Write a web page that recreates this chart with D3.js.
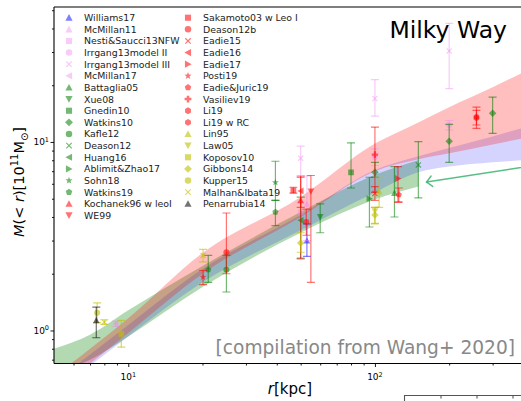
<!DOCTYPE html>
<html>
<head>
<meta charset="utf-8">
<script src="https://cdn.jsdelivr.net/npm/d3@7"></script>
<style>
  body { margin: 0; background: #fff; }
  svg { display: block; }
  text { font-family: "DejaVu Sans", sans-serif; }
</style>
</head>
<body>
<svg id="chart" width="521" height="401"></svg>
<script>
// Enclosed Milky Way mass, M(<r) in units of 1e11 Msun.
// Each row: [r (kpc), M, lower bound, upper bound]
const williams17   = [[53, 3.0, 2.47, 3.68]];
const mcmillan11   = [[53, 4.7, 3.0, 6.6]];
const nesti13      = [[50, 4.25, 3.8, 4.8]];
const irrgang13ii  = [[100, 8.3, 7.5, 9.2], [200, 12.3, 11.6, 13.0]];
const irrgang13iii = [[50, 8.2, 6.5, 9.5], [100, 17.0, 13.7, 21.4], [200, 30.4, 19.2, 42.6]];
const mcmillan17   = [[8.9, 1.085, 1.05, 1.12]];
const battaglia05  = [[120, 5.36, 4.0, 7.4]];
const xue08        = [[60, 4.0, 3.3, 4.7]];
const gnedin10     = [[80, 6.9, 5.7, 9.9]];
const watkins10    = [[100, 6.9, 6.5, 7.8], [200, 10.1, 7.8, 12.4], [300, 14.2, 11.1, 17.3]];
const kafle12      = [[25, 2.1, 1.6, 2.5]];
const deason12     = [[150, 7.55, 5.05, 10.05]];
const huang16      = [[50, 3.84, 2.42, 5.1]];
const ablimit17    = [[95, 5.0, 3.54, 6.5]];
const sohn18       = [[39.5, 6.1, 4.9, 7.9]];
const watkins19    = [[21.1, 2.1, 1.8, 2.5], [39.5, 4.25, 3.6, 4.9]];
const kochanek96   = [[50, 4.9, 2.4, 6.5]];
const we99         = [[55, 5.47, 1.8, 6.64]];
const sakamoto03   = [[46.7, 5.54, 5.35, 5.75]];
const deason12b    = [[25, 2.6, 2.0, 4.2], [52.7, 3.76, 3.2, 4.4]];
const eadie15      = [[100, 5.33, 4.9, 5.8]];
const eadie16      = [[50, 5.5, 4.5, 6.6]];
const eadie17      = [[124, 6.4, 4.8, 7.4]];
const posti19      = [[20.1, 1.92, 1.75, 2.08]];
const eadieJuric19 = [[125, 5.25, 4.8, 5.7]];
const vasiliev19   = [[100, 8.57, 5.4, 12.0]];
const li19         = [[258, 13.6, 11.8, 15.3]];
const li19rc       = [[258, 13.4, 12.3, 14.7]];
const lin95        = [[104, 5.47, 4.5, 6.5]];
const law05        = [[100, 4.3, 3.68, 4.5]];
const koposov10    = [[9.37, 0.96, 0.815, 1.13]];
const gibbons14    = [[50, 2.91, 2.6, 3.3], [100, 4.1, 3.7, 4.5]];
const kupper15     = [[7.48, 1.24, 1.1, 1.40]];
const malhan19     = [[8.0, 1.107, 1.076, 1.14], [20.1, 2.5, 2.31, 2.69]];
const penarrubia14 = [[7.42, 1.13, 0.915, 1.33]];

// Model envelopes: [r (kpc), lower M, upper M]
const greenBand = [[5, 0.60, 0.80], [7, 0.70, 0.95], [10, 0.93, 1.28], [20, 1.70, 2.2],
                   [50, 3.3, 4.25], [100, 4.95, 6.7], [150, 5.8, 8.0]];
const blueBand  = [[5, 0.465, 0.53], [7, 0.65, 0.745], [10, 0.93, 1.07], [20, 1.8, 2.12],
                   [50, 3.4, 4.1], [100, 5.4, 7.1], [150, 6.9, 8.4], [200, 7.4, 9.3],
                   [300, 7.8, 10.7], [391, 8.0, 11.8]];
const redBand   = [[5, 0.48, 0.57], [7, 0.668, 0.80], [10, 0.97, 1.16], [20, 2.0, 2.58],
                   [50, 4.0, 5.1], [100, 7.0, 9.8], [150, 8.1, 12.7], [200, 8.7, 15.3],
                   [300, 9.7, 19.5], [391, 10.4, 23.1]];

// Axis ticks
const xMajor = [10, 100];
const xMinor = [6, 7, 8, 9, 20, 30, 40, 50, 60, 70, 80, 90, 200, 300];
const yMajor = [1, 10];
const yMinor = [0.7, 0.8, 0.9, 2, 3, 4, 5, 6, 7, 8, 9, 20, 30, 40, 50];
const xMajorExp = ["1", "2"];
const yMajorExp = ["0", "1"];

// Legend columns: [label, data, colour key, marker]
const legendLeft = [
  ["Williams17", williams17, "blue", "^"],
  ["McMillan11", mcmillan11, "violet", "^"],
  ["Nesti&Saucci13NFW", nesti13, "violet", "s"],
  ["Irrgang13model II", irrgang13ii, "violet", "o"],
  ["Irrgang13model III", irrgang13iii, "violet", "x"],
  ["McMillan17", mcmillan17, "violet", "<"],
  ["Battaglia05", battaglia05, "green", "^"],
  ["Xue08", xue08, "green", "v"],
  ["Gnedin10", gnedin10, "green", "s"],
  ["Watkins10", watkins10, "green", "D"],
  ["Kafle12", kafle12, "green", "o"],
  ["Deason12", deason12, "green", "x"],
  ["Huang16", huang16, "green", "<"],
  ["Ablimit&Zhao17", ablimit17, "green", ">"],
  ["Sohn18", sohn18, "green", "*"],
  ["Watkins19", watkins19, "green", "p"],
  ["Kochanek96 w leoI", kochanek96, "red", "^"],
  ["WE99", we99, "red", "v"]
];
const legendRight = [
  ["Sakamoto03 w Leo I", sakamoto03, "red", "s"],
  ["Deason12b", deason12b, "red", "o"],
  ["Eadie15", eadie15, "red", "x"],
  ["Eadie16", eadie16, "red", "<"],
  ["Eadie17", eadie17, "red", ">"],
  ["Posti19", posti19, "red", "*"],
  ["Eadie&Juric19", eadieJuric19, "red", "p"],
  ["Vasiliev19", vasiliev19, "red", "P"],
  ["Li19", li19, "red", "h"],
  ["Li19 w RC", li19rc, "red", "h"],
  ["Lin95", lin95, "yellow", "^"],
  ["Law05", law05, "yellow", "v"],
  ["Koposov10", koposov10, "yellow", "s"],
  ["Gibbons14", gibbons14, "yellow", "D"],
  ["Kupper15", kupper15, "yellow", "o"],
  ["Malhan&Ibata19", malhan19, "yellow", "x"],
  ["Penarrubia14", penarrubia14, "black", "^"]
];

const colours = {
  blue:   { c: "#0000ff", a: 0.5 },
  violet: { c: "#ee82ee", a: 0.42 },
  green:  { c: "#008000", a: 0.55 },
  red:    { c: "#ff0000", a: 0.55 },
  yellow: { c: "#bfbf00", a: 0.6 },
  black:  { c: "#000000", a: 0.55 }
};

const svg = d3.select("#chart");
const plot = { left: 54, right: 521, top: 7, bottom: 363.5 };

const x = d3.scaleLog().domain([5, 391]).range([plot.left, plot.right]);
const y = d3.scaleLog().domain([0.668, 52]).range([plot.bottom, plot.top]);

svg.append("defs").append("clipPath").attr("id", "plotClip")
  .append("rect")
  .attr("x", plot.left).attr("y", plot.top)
  .attr("width", plot.right - plot.left).attr("height", plot.bottom - plot.top);

const inner = svg.append("g").attr("clip-path", "url(#plotClip)");

// Envelopes
const area = d3.area()
  .x(d => x(d[0]))
  .y0(d => y(d[1]))
  .y1(d => y(d[2]))
  .curve(d3.curveMonotoneX);

inner.append("path").datum(greenBand).attr("d", area)
  .attr("fill", "#008000").attr("fill-opacity", 0.3);
inner.append("path").datum(blueBand).attr("d", area)
  .attr("fill", "#0000ff").attr("fill-opacity", 0.17);
inner.append("path").datum(redBand).attr("d", area)
  .attr("fill", "#ff0000").attr("fill-opacity", 0.25);

// Marker shapes
function markerPath(type, s) {
  const poly = pts => "M" + pts.map(p => p[0].toFixed(2) + "," + p[1].toFixed(2)).join("L") + "Z";
  const reg = (n, rad, rot) => d3.range(n).map(i => {
    const a = rot + i * 2 * Math.PI / n;
    return [rad * Math.sin(a), -rad * Math.cos(a)];
  });
  switch (type) {
    case "^": return poly([[0, -s], [s, s * 0.85], [-s, s * 0.85]]);
    case "v": return poly([[0, s], [s, -s * 0.85], [-s, -s * 0.85]]);
    case "<": return poly([[-s, 0], [s * 0.85, -s], [s * 0.85, s]]);
    case ">": return poly([[s, 0], [-s * 0.85, -s], [-s * 0.85, s]]);
    case "s": { const h = s * 0.85; return poly([[-h, -h], [h, -h], [h, h], [-h, h]]); }
    case "D": return poly([[0, -s * 1.1], [s * 1.1, 0], [0, s * 1.1], [-s * 1.1, 0]]);
    case "o": {
      const r = s * 0.9;
      return `M${r},0A${r},${r} 0 1,1 ${-r},0A${r},${r} 0 1,1 ${r},0Z`;
    }
    case "p": return poly(reg(5, s * 0.95, 0));
    case "h": return poly(reg(6, s * 0.95, 0));
    case "*": {
      const pts = [];
      for (let i = 0; i < 10; i++) {
        const rad = i % 2 === 0 ? s * 1.05 : s * 0.45;
        const a = i * Math.PI / 5;
        pts.push([rad * Math.sin(a), -rad * Math.cos(a)]);
      }
      return poly(pts);
    }
    case "P": {
      const a = s * 0.95, b = s * 0.35;
      return poly([[-b, -a], [b, -a], [b, -b], [a, -b], [a, b], [b, b], [b, a], [-b, a], [-b, b], [-a, b], [-a, -b], [-b, -b]]);
    }
    case "x": { const h = s * 0.75; return `M${-h},${-h}L${h},${h}M${-h},${h}L${h},${-h}`; }
  }
}

function drawMarker(g, type, colourKey, cx, cy, s) {
  const col = colours[colourKey];
  const p = g.append("path")
    .attr("d", markerPath(type, s))
    .attr("transform", `translate(${cx},${cy})`);
  if (type === "x") {
    p.attr("fill", "none").attr("stroke", col.c).attr("stroke-opacity", col.a).attr("stroke-width", 1.2);
  } else {
    p.attr("fill", col.c).attr("fill-opacity", col.a);
  }
}

// Measurements with error bars
const allSeries = legendLeft.concat(legendRight);
const pts = inner.append("g");
allSeries.forEach(([label, data, ck, mk]) => {
  const col = colours[ck];
  const g = pts.append("g");
  data.forEach(([r, m, lo, hi]) => {
    const cx = x(r);
    const eb = g.append("g").attr("stroke", col.c).attr("stroke-opacity", col.a).attr("stroke-width", 1.2);
    eb.append("line").attr("x1", cx).attr("x2", cx).attr("y1", y(lo)).attr("y2", y(hi));
    eb.append("line").attr("x1", cx - 4).attr("x2", cx + 4).attr("y1", y(lo)).attr("y2", y(lo));
    eb.append("line").attr("x1", cx - 4).attr("x2", cx + 4).attr("y1", y(hi)).attr("y2", y(hi));
    drawMarker(g, mk, ck, cx, y(m), 3.4);
  });
});

// Arrow pointing at the envelopes
const arrowFrom = [520, 7.75], arrowTo = [162, 6.13];
{
  const x0 = x(arrowFrom[0]), y0 = y(arrowFrom[1]);
  const x1 = x(arrowTo[0]), y1 = y(arrowTo[1]);
  const ang = Math.atan2(y0 - y1, x0 - x1);
  const L = 7.5;
  const a1 = ang + Math.PI / 4, a2 = ang - Math.PI / 4;
  const ag = inner.append("g").attr("stroke", "#3cb371").attr("stroke-opacity", 0.85)
    .attr("stroke-width", 1.5).attr("fill", "none").attr("stroke-linecap", "round");
  ag.append("line").attr("x1", x0).attr("y1", y0).attr("x2", x1).attr("y2", y1);
  ag.append("path").attr("d",
    `M${x1 + L * Math.cos(a1)},${y1 + L * Math.sin(a1)}L${x1},${y1}L${x1 + L * Math.cos(a2)},${y1 + L * Math.sin(a2)}`);
}

// Spines
const sp = svg.append("g").attr("stroke", "#000").attr("stroke-width", 1.1);
sp.append("line").attr("x1", plot.left).attr("x2", plot.left).attr("y1", plot.top).attr("y2", plot.bottom);
sp.append("line").attr("x1", plot.left).attr("x2", plot.right).attr("y1", plot.bottom).attr("y2", plot.bottom);
sp.append("line").attr("x1", plot.left).attr("x2", plot.right).attr("y1", plot.top).attr("y2", plot.top);

// Axes ticks
function ticks(g, axis) {
  g.call(axis).call(s => s.select(".domain").remove());
  g.selectAll(".tick line").attr("stroke", "#000").attr("stroke-width", 0.9);
  g.selectAll(".tick text").remove();
}
const gx = svg.append("g").attr("transform", `translate(0,${plot.bottom})`);
ticks(gx.append("g"), d3.axisBottom(x).tickValues(xMajor).tickSize(3.5).tickFormat(""));
ticks(gx.append("g"), d3.axisBottom(x).tickValues(xMinor).tickSize(2).tickFormat(""));
const gy = svg.append("g").attr("transform", `translate(${plot.left},0)`);
ticks(gy.append("g"), d3.axisLeft(y).tickValues(yMajor).tickSize(3.5).tickFormat(""));
ticks(gy.append("g"), d3.axisLeft(y).tickValues(yMinor.filter(v => y(v) > plot.top)).tickSize(2).tickFormat(""));

// Tick labels with exponents
xMajor.forEach((v, i) => {
  const t = svg.append("text").attr("x", x(v)).attr("y", 380).attr("text-anchor", "middle")
    .attr("font-size", 9).attr("fill", "#000");
  t.append("tspan").text("10");
  t.append("tspan").attr("dy", -3.5).attr("font-size", 6.5).text(xMajorExp[i]);
});
yMajor.forEach((v, i) => {
  const t = svg.append("text").attr("x", 49).attr("y", y(v) + 3.2).attr("text-anchor", "end")
    .attr("font-size", 9).attr("fill", "#000");
  t.append("tspan").text("10");
  t.append("tspan").attr("dy", -3.5).attr("font-size", 6.5).text(yMajorExp[i]);
});

// Axis titles
{
  const t = svg.append("text").attr("transform", "translate(24,182) rotate(-90)")
    .attr("text-anchor", "middle").attr("font-size", 14.5).attr("fill", "#000");
  t.append("tspan").attr("font-style", "italic").text("M");
  t.append("tspan").text("(< ");
  t.append("tspan").attr("font-style", "italic").text("r");
  t.append("tspan").text(")[10");
  t.append("tspan").attr("dy", -6).attr("font-size", 10).text("11");
  t.append("tspan").attr("dy", 6).text("M");
  t.append("tspan").attr("dy", 3.5).attr("font-size", 10).text("\u2299");
  t.append("tspan").attr("dy", -3.5).text("]");
}
{
  const t = svg.append("text").attr("x", 290).attr("y", 394).attr("text-anchor", "middle")
    .attr("font-size", 15).attr("fill", "#000");
  t.append("tspan").attr("font-style", "italic").text("r");
  t.append("tspan").text("[kpc]");
}

// Panel annotations
svg.append("text").attr("x", 507).attr("y", 38).attr("text-anchor", "end")
  .attr("font-size", 23.5).attr("fill", "#000").text("Milky Way");
svg.append("text").attr("x", 515).attr("y", 354).attr("text-anchor", "end")
  .attr("font-size", 18.6).attr("fill", "#888").text("[compilation from Wang+ 2020]");

// Legend
function legendColumn(items, mx, tx) {
  items.forEach(([label, , ck, mk], i) => {
    const yy = 17.7 + i * 11.63;
    const g = svg.append("g");
    drawMarker(g, mk, ck, mx, yy, 3.6);
    svg.append("text").attr("x", tx).attr("y", yy + 3.4).attr("font-size", 9.4)
      .attr("fill", "#222").text(label);
  });
}
legendColumn(legendLeft, 69, 84);
legendColumn(legendRight, 188, 203);

// Top edge of the neighbouring panel
{
  const g = svg.append("g").attr("stroke", "#555").attr("stroke-width", 1.1);
  g.append("line").attr("x1", 404).attr("x2", 521).attr("y1", 395.5).attr("y2", 395.5);
  g.append("line").attr("x1", 404.5).attr("x2", 404.5).attr("y1", 395).attr("y2", 401);
  [441, 477, 513].forEach(v => g.append("line").attr("x1", v).attr("x2", v).attr("y1", 395.5).attr("y2", 398.5));
}
</script>
</body>
</html>
